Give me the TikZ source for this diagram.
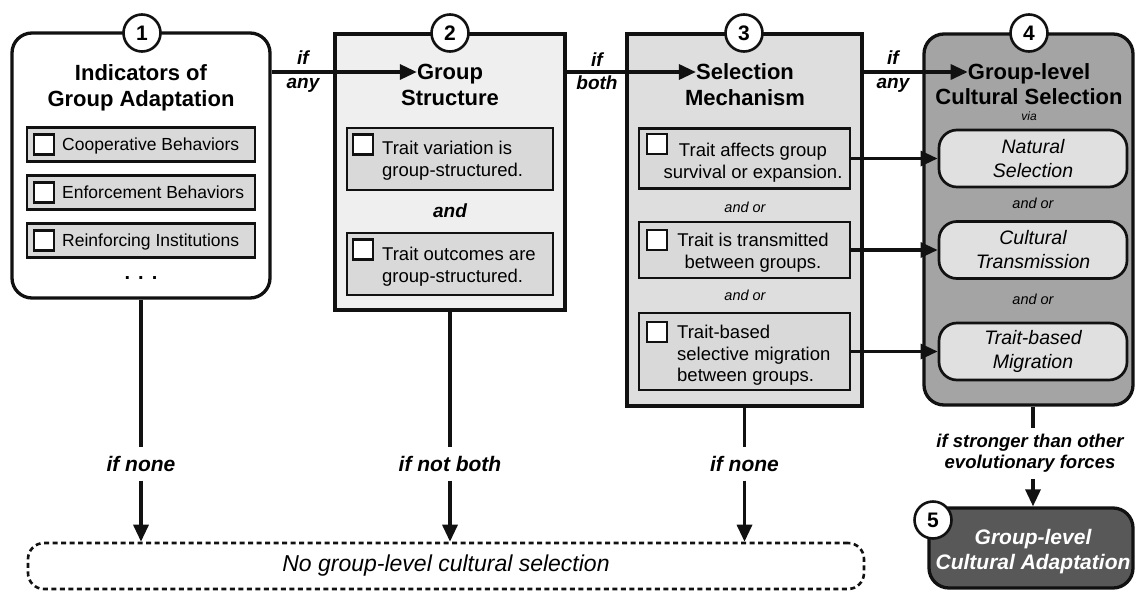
\documentclass[tikz,border=0pt]{standalone}
\usepackage{fontspec}
\setmainfont{Liberation Sans}
\usetikzlibrary{arrows.meta}
\definecolor{fillB}{HTML}{EFEFEF}
\definecolor{fillC}{HTML}{DEDEDE}
\definecolor{fillD}{HTML}{A4A4A4}
\definecolor{fillE}{HTML}{585858}
\definecolor{innerg}{HTML}{D9D9D9}
\definecolor{pillg}{HTML}{E0E0E0}
\definecolor{ink}{HTML}{111111}
\tikzset{
  mainbox/.style={draw=ink, line width=3.3pt, inner sep=0pt},
  num/.style={circle, draw=ink, line width=2.6pt, fill=white, minimum size=37pt, inner sep=0pt, font=\fontsize{21}{21}\selectfont\bfseries},
  ttl/.style={inner sep=0pt, text height=15.8pt, text depth=0pt, font=\fontsize{22}{26}\selectfont\bfseries},
  ibox/.style={draw=ink, line width=2.7pt, fill=innerg, inner sep=0pt},
  chk/.style={draw=ink, line width=2.3pt, fill=white, minimum size=20pt, inner sep=0pt},
  smtxt/.style={inner sep=0pt, text height=12.6pt, text depth=0pt, font=\fontsize{17.5}{21}\selectfont},
  itxt/.style={inner sep=0pt, font=\fontsize{18.5}{21.5}\selectfont},
  andor/.style={inner sep=0pt, text height=10.5pt, text depth=0pt, font=\fontsize{14.5}{17}\selectfont\itshape},
  iflab/.style={inner sep=0pt, align=center, font=\fontsize{19}{23.2}\selectfont\bfseries\itshape},
  cond/.style={inner xsep=2pt, inner ysep=9pt, text height=15pt, text depth=0pt, font=\fontsize{21}{25}\selectfont\bfseries\itshape},
  conn/.style={draw=ink, line width=3.3pt},
  arr/.style={draw=ink, line width=3.3pt, -{Triangle[length=17pt,width=15pt]}},
  pill/.style={draw=ink, line width=2.7pt, fill=pillg, rounded corners=18pt, inner sep=0pt, minimum width=188pt, minimum height=57pt, align=center, font=\fontsize{19.5}{24}\selectfont\itshape},
}
\begin{document}
\begin{tikzpicture}[x=1pt,y=-1pt]
\useasboundingbox (0,0) rectangle (1135,592);

% ---- main boxes
\node[mainbox, rounded corners=20pt, fill=white, minimum width=258pt, minimum height=265pt] (b1) at (141,165.5) {};
\node[mainbox, fill=fillB, minimum width=230pt, minimum height=276pt] (b2) at (450,172) {};
\node[mainbox, fill=fillC, minimum width=235pt, minimum height=372pt] (b3) at (744.5,220) {};
\node[mainbox, rounded corners=20pt, fill=fillD, minimum width=209pt, minimum height=371pt] (b4) at (1028.5,219.5) {};
\node[mainbox, rounded corners=20pt, fill=fillE, minimum width=204pt, minimum height=80pt] (b5) at (1031,548) {};
\node[draw=ink, line width=2.6pt, dash pattern=on 5pt off 3.5pt, rounded corners=16pt, minimum width=836pt, minimum height=46pt, inner sep=0pt] (none) at (446,566) {};
\node[inner sep=0pt, font=\fontsize{23}{26}\selectfont\itshape] (nonetxt) at (446,566) {No group-level cultural selection};

% ---- numbers
\node[num] (n1) at (142,33) {1};
\node[num] (n2) at (450,33) {2};
\node[num] (n3) at (744,33) {3};
\node[num] (n4) at (1029,33) {4};
\node[num] (n5) at (933,520) {5};

% ---- titles
\node[ttl] (t1a) at (141,73) {Indicators of};
\node[ttl] (t1b) at (141,99) {Group Adaptation};
\node[ttl] (t2a) at (450,72) {Group};
\node[ttl] (t2b) at (450,98) {Structure};
\node[ttl] (t3a) at (745,72) {Selection};
\node[ttl] (t3b) at (745,98) {Mechanism};
\node[ttl] (t4a) at (1029,72) {Group-level};
\node[ttl] (t4b) at (1029,97) {Cultural Selection};
\node[inner sep=0pt, font=\fontsize{12}{14}\selectfont\itshape] (via) at (1029,116) {via};

% ---- box 1 contents
\node[ibox, minimum width=228pt, minimum height=34pt] (a1) at (141,144.5) {};
\node[ibox, minimum width=228pt, minimum height=34pt] (a2) at (141,192.5) {};
\node[ibox, minimum width=228pt, minimum height=34pt] (a3) at (141,240.5) {};
\node[chk] (k1) at (44,144.5) {};
\node[chk] (k2) at (44,192.5) {};
\node[chk] (k3) at (44,240.5) {};
\node[smtxt, anchor=west] (x1) at (62,144.5) {Cooperative Behaviors};
\node[smtxt, anchor=west] (x2) at (62,192.5) {Enforcement Behaviors};
\node[smtxt, anchor=west] (x3) at (62,240.5) {Reinforcing Institutions};
\node[inner sep=0pt, anchor=base, font=\fontsize{20}{20}\selectfont\bfseries] (dots) at (141,279) {.\hspace{8pt}.\hspace{8pt}.};

% ---- box 2 contents
\node[ibox, minimum width=206pt, minimum height=62pt] (s1) at (450,159) {};
\node[ibox, minimum width=206pt, minimum height=62pt] (s2) at (450,264) {};
\node[chk] (k4) at (363,144.5) {};
\node[chk] (k5) at (363,249.5) {};
\node[itxt, align=left, anchor=north west] (y1) at (382,141.3) {Trait variation is\\group-structured.};
\node[itxt, align=left, anchor=north west] (y2) at (382,247.3) {Trait outcomes are\\group-structured.};
\node[inner sep=0pt, text height=13.7pt, text depth=0pt, font=\fontsize{19}{23}\selectfont\bfseries\itshape] (and) at (450,211) {and};

% ---- box 3 contents
\node[ibox, minimum width=211pt, minimum height=60pt] (m1) at (744.5,158.5) {};
\node[ibox, minimum width=211pt, minimum height=56pt] (m2) at (744.5,250) {};
\node[ibox, minimum width=211pt, minimum height=77pt] (m3) at (744.5,351.5) {};
\node[chk] (k6) at (657,144) {};
\node[chk] (k7) at (657,240) {};
\node[chk] (k8) at (657,332) {};
\node[itxt, align=center, anchor=north] (z1) at (753,143.3) {Trait affects group\\survival or expansion.};
\node[itxt, align=center, anchor=north] (z2) at (753,233.3) {Trait is transmitted\\between groups.};
\node[itxt, align=left, anchor=north west] (z3) at (677,325.3) {Trait-based\\selective migration\\between groups.};
\node[andor] (o1) at (745,207) {and or};
\node[andor] (o2) at (745,295) {and or};

% ---- box 4 contents
\node[pill] (p1) at (1033,158.5) {Natural\\Selection};
\node[pill] (p2) at (1033,250) {Cultural\\Transmission};
\node[pill] (p3) at (1033,351.5) {Trait-based\\Migration};
\node[andor] (o3) at (1033,203) {and or};
\node[andor] (o4) at (1033,299) {and or};

% ---- box 5 text
\node[inner sep=0pt, align=center, text=white, font=\fontsize{21}{24.5}\selectfont\bfseries\itshape] (g5) at (1033,551.5) {Group-level\\Cultural Adaptation};

% ---- top connectors
\node[iflab] (c12) at (303,71.5) {if\\any};
\node[iflab] (c23) at (597,71.5) {if\\both};
\node[iflab] (c34) at (893,71.5) {if\\any};
\draw[arr] (b1.east |- t2a.west) -- (t2a.west);
\draw[arr] (b2.east |- t3a.west) -- (t3a.west);
\draw[arr] (b3.east |- t4a.west) -- (t4a.west);

% ---- mechanism connectors
\draw[arr] (m1.east) -- (p1.west);
\draw[arr] (m2.east) -- (p2.west);
\draw[arr] (m3.east) -- (p3.west);

% ---- downward connectors
\node[cond] (d1) at (141,464) {if none};
\node[cond] (d2) at (450,464) {if not both};
\node[cond] (d3) at (744.5,464) {if none};
\draw[conn] (b1.south) -- (d1.north);
\draw[arr] (d1.south) -- (d1.south |- none.north);
\draw[conn] (b2.south) -- (d2.north);
\draw[arr] (d2.south) -- (d2.south |- none.north);
\draw[conn] (b3.south) -- (d3.north);
\draw[arr] (d3.south) -- (d3.south |- none.north);

\node[inner xsep=2pt, inner ysep=6pt, align=center, font=\fontsize{18.5}{21}\selectfont\bfseries\itshape] (d4) at (1030,453.5) {if stronger than other\\evolutionary forces};
\draw[conn] (p3.south |- b4.south) -- (p3.south |- d4.north);
\draw[arr] (p3.south |- d4.south) -- (p3.south |- b5.north);
\end{tikzpicture}
\end{document}
